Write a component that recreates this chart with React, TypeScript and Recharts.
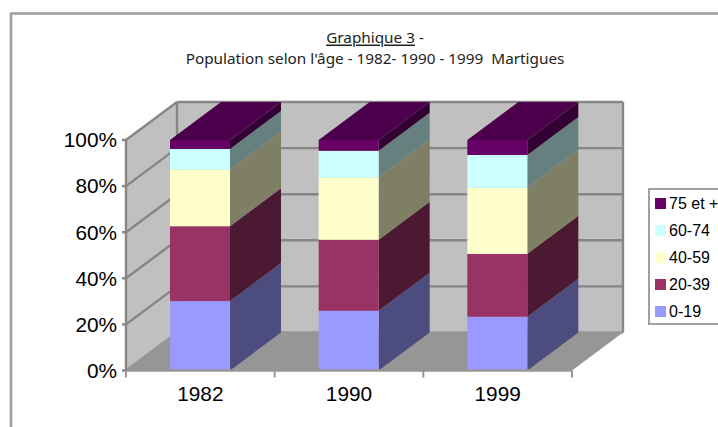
import React from "react"
import { BarChart, Bar, XAxis, YAxis, Legend } from "recharts"

const years = ["1982", "1990", "1999"]
const ageGroups = ["0-19", "20-39", "40-59", "60-74", "75 et +"]
const age0to19 = [30.1, 25.9, 23.3]
const age20to39 = [32.5, 30.8, 27.3]
const age40to59 = [24.5, 27.0, 28.7]
const age60to74 = [9.0, 11.6, 14.2]
const age75plus = [3.9, 4.7, 6.5]
const yTicks = [0, 20, 40, 60, 80, 100]

const seriesValues = [age0to19, age20to39, age40to59, age60to74, age75plus]
const frontColors = ["#9999ff", "#993366", "#ffffcc", "#ccffff", "#660066"]
const sideColors = ["#4c4c7f", "#4c1933", "#7f7f66", "#667f7f", "#330033"]
const topColor = "#4c004c"

const data = years.map((year, i) => {
  const row: Record<string, string | number> = { year }
  ageGroups.forEach((group, s) => {
    row[group] = seriesValues[s][i]
  })
  return row
})

const WIDTH = 718
const HEIGHT = 427
const plotLeft = 126
const plotRight = 572
const plotTop = 140
const plotBottom = 370.5
const depthX = 51
const depthY = -38
const axisGray = "#868686"
const frameGray = "#a0a0a0"
const axisFont = "'Liberation Sans', Arial, sans-serif"
const titleFont = "'Noto Sans', sans-serif"

const yFor = (tick: number) => plotBottom - ((plotBottom - plotTop) * tick) / 100

// the grey box behind the bars: left wall, back wall and floor
const Backdrop = () => {
  const backLeft = plotLeft + depthX
  const backRight = plotRight + depthX
  const backTop = plotTop + depthY
  const backBottom = plotBottom + depthY
  return (
    <g>
      <rect x={11} y={13.5} width={WIDTH} height={HEIGHT} fill="#fff" stroke={frameGray} strokeWidth={2.6} />
      <polygon
        points={`${plotLeft},${plotTop} ${backLeft},${backTop} ${backLeft},${backBottom} ${plotLeft},${plotBottom}`}
        fill="#c0c0c0"
      />
      <rect x={backLeft} y={backTop} width={backRight - backLeft} height={backBottom - backTop} fill="#c0c0c0" />
      <polygon
        points={`${plotLeft},${plotBottom} ${plotRight},${plotBottom} ${backRight},${backBottom} ${backLeft},${backBottom}`}
        fill="#969696"
      />
      {yTicks.map((t) => (
        <g key={t} stroke={t === 0 ? "#969696" : axisGray} strokeWidth={2.4}>
          <line x1={plotLeft} y1={yFor(t)} x2={backLeft} y2={yFor(t) + depthY} />
          <line x1={backLeft} y1={yFor(t) + depthY} x2={backRight} y2={yFor(t) + depthY} />
        </g>
      ))}
      <line x1={backLeft} y1={backTop} x2={backLeft} y2={backBottom} stroke={axisGray} strokeWidth={2.4} />
      <line x1={backRight} y1={backTop} x2={backRight} y2={backBottom} stroke={axisGray} strokeWidth={2.4} />
    </g>
  )
}

const Bar3D = (props: any) => {
  const { x, y, width, height, seriesIndex } = props
  const bottom = y + height
  const right = x + width
  return (
    <g>
      <polygon
        points={`${right},${y} ${right + depthX},${y + depthY} ${right + depthX},${bottom + depthY} ${right},${bottom}`}
        fill={sideColors[seriesIndex]}
      />
      <rect x={x} y={y} width={width} height={height} fill={frontColors[seriesIndex]} />
      {seriesIndex === ageGroups.length - 1 && (
        <polygon
          points={`${x},${y} ${right},${y} ${right + depthX},${y + depthY} ${x + depthX},${y + depthY}`}
          fill={topColor}
        />
      )}
    </g>
  )
}

// Excel puts the ticks between the categories, not under them
const YearTick = (props: any) => {
  const { x, payload, index } = props
  const band = (plotRight - plotLeft) / years.length
  const left = x - band / 2
  return (
    <g>
      <line x1={left} y1={plotBottom} x2={left} y2={plotBottom + 7} stroke="#969696" strokeWidth={2} />
      {index === years.length - 1 && (
        <line x1={left + band} y1={plotBottom} x2={left + band} y2={plotBottom + 7} stroke="#969696" strokeWidth={2} />
      )}
      <text x={x} y={plotBottom + 22.5} textAnchor="middle" dominantBaseline="central" fontSize={20.8} fontFamily={axisFont} fill="#000">
        {payload.value}
      </text>
    </g>
  )
}

const LegendBox = ({ payload }: any) => {
  const items = [...(payload ?? [])].reverse()
  return (
    <div
      style={{
        boxSizing: "border-box",
        width: 90,
        height: 137,
        border: `2.6px solid ${frameGray}`,
        background: "#fff",
        padding: "0 0 0 5px",
        fontFamily: axisFont,
        fontSize: 16,
        color: "#000",
      }}
    >
      {items.map((item: any) => (
        <div key={item.value} style={{ display: "flex", alignItems: "center", height: 27, whiteSpace: "nowrap" }}>
          <span style={{ width: 11, height: 11, background: item.color, marginRight: 3, flex: "none" }} />
          {item.value}
        </div>
      ))}
    </div>
  )
}

const Title = () => (
  <g fontFamily={titleFont} fontSize={15.3} fill="#222" textAnchor="middle">
    <text x={375} y={36.5} dominantBaseline="central">
      <tspan textDecoration="underline">Graphique 3</tspan>
      <tspan> -</tspan>
    </text>
    <text x={375} y={58} dominantBaseline="central" style={{ whiteSpace: "pre" }}>
      Population selon l'âge - 1982- 1990 - 1999  Martigues
    </text>
  </g>
)

export default function App() {
  return (
    <div style={{ position: "absolute", left: 0, top: 0, width: WIDTH, height: HEIGHT, overflow: "hidden", background: "#fff" }}>
      <BarChart
        width={WIDTH}
        height={HEIGHT}
        data={data}
        barSize={60}
        margin={{ left: plotLeft - 60, right: WIDTH - plotRight, top: plotTop, bottom: HEIGHT - plotBottom - 40 }}
      >
        <Backdrop />
        <Title />
        <XAxis dataKey="year" height={40} stroke="#969696" strokeWidth={2.4} tickLine={false} tick={<YearTick />} interval={0} />
        <YAxis
          width={60}
          domain={[0, 100]}
          ticks={yTicks}
          interval={0}
          stroke={axisGray}
          strokeWidth={2.4}
          tickSize={4}
          tickMargin={5}
          tickFormatter={(v: number) => `${v}%`}
          tick={{ fontSize: 20.8, fontFamily: axisFont, fill: "#000" }}
        />
        {ageGroups.map((group, s) => (
          <Bar
            key={group}
            dataKey={group}
            stackId="age"
            fill={frontColors[s]}
            isAnimationActive={false}
            shape={(props: any) => <Bar3D {...props} seriesIndex={s} />}
          />
        ))}
        <Legend
          layout="horizontal"
          verticalAlign="middle"
          content={<LegendBox />}
          wrapperStyle={{ position: "absolute", left: 648, top: 188, width: 90, height: 137 }}
        />
      </BarChart>
    </div>
  )
}
